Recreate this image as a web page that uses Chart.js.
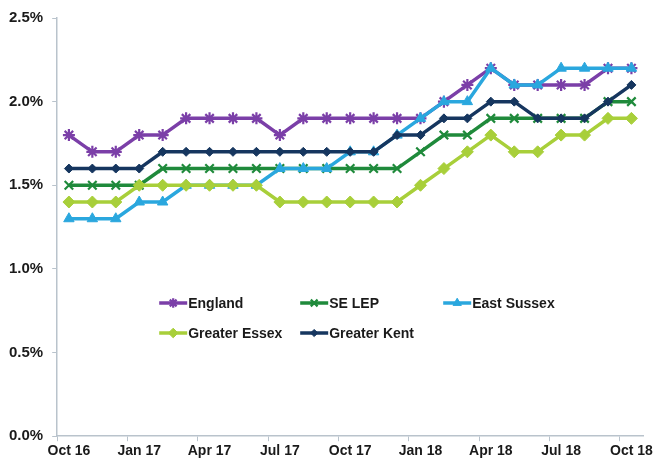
<!DOCTYPE html>
<html>
<head>
<meta charset="utf-8">
<script src="https://cdn.jsdelivr.net/npm/chart.js"></script>
<style>
html, body { margin: 0; padding: 0; background: #fff; }
#wrap { width: 655px; height: 463px; }
</style>
</head>
<body>
<div id="wrap"><canvas id="rateChart" width="655" height="463"></canvas></div>
<script>
// monthly, Oct 16 .. Oct 18
var months = ['Oct 16','Nov 16','Dec 16','Jan 17','Feb 17','Mar 17','Apr 17','May 17','Jun 17',
              'Jul 17','Aug 17','Sep 17','Oct 17','Nov 17','Dec 17','Jan 18','Feb 18','Mar 18',
              'Apr 18','May 18','Jun 18','Jul 18','Aug 18','Sep 18','Oct 18'];
var seriesNames = ['England', 'SE LEP', 'East Sussex', 'Greater Essex', 'Greater Kent'];

var england      = [1.8,1.7,1.7,1.8,1.8,1.9,1.9,1.9,1.9,1.8,1.9,1.9,1.9,1.9,1.9,1.9,2.0,2.1,2.2,2.1,2.1,2.1,2.1,2.2,2.2];
var seLep        = [1.5,1.5,1.5,1.5,1.6,1.6,1.6,1.6,1.6,1.6,1.6,1.6,1.6,1.6,1.6,1.7,1.8,1.8,1.9,1.9,1.9,1.9,1.9,2.0,2.0];
var eastSussex   = [1.3,1.3,1.3,1.4,1.4,1.5,1.5,1.5,1.5,1.6,1.6,1.6,1.7,1.7,1.8,1.9,2.0,2.0,2.2,2.1,2.1,2.2,2.2,2.2,2.2];
var greaterEssex = [1.4,1.4,1.4,1.5,1.5,1.5,1.5,1.5,1.5,1.4,1.4,1.4,1.4,1.4,1.4,1.5,1.6,1.7,1.8,1.7,1.7,1.8,1.8,1.9,1.9];
var greaterKent  = [1.6,1.6,1.6,1.6,1.7,1.7,1.7,1.7,1.7,1.7,1.7,1.7,1.7,1.7,1.8,1.8,1.9,1.9,2.0,2.0,1.9,1.9,1.9,2.0,2.1];

var yTicks = [0, 0.5, 1.0, 1.5, 2.0, 2.5];

var colours = ['#7b3fa8', '#1f8a3b', '#2aa7de', '#a8cf3a', '#16365f'];
var markers = ['star', 'crossRot', 'triangle', 'rectRot', 'rectRot'];
var markerSize = [6, 6, 6, 6, 4.5];
var values = [england, seLep, eastSussex, greaterEssex, greaterKent];

var axisGrey = '#b9c3cc';

var datasets = [];
for (var i = 0; i < values.length; i++) {
   datasets.push({
      label: seriesNames[i],
      data: values[i],
      borderColor: colours[i],
      backgroundColor: colours[i],
      pointBorderColor: colours[i],
      pointBackgroundColor: colours[i],
      pointStyle: markers[i],
      pointRadius: markerSize[i],
      pointBorderWidth: (markers[i] == 'star' || markers[i] == 'crossRot') ? 2.2 : 1,
      borderWidth: 3.5,
      fill: false,
      tension: 0,
      order: values.length - i   // later series on top, like the original
   });
}

// legend drawn inside the plot area, two rows
var insideLegend = {
   id: 'insideLegend',
   afterDatasetsDraw: function(chart) {
      var ctx = chart.ctx, area = chart.chartArea;
      var slots = [[102, 285], [243, 285], [386, 285], [102, 315], [243, 315]];
      ctx.save();
      ctx.font = 'bold 14px "Liberation Sans", Arial, sans-serif';
      ctx.textBaseline = 'middle';
      ctx.textAlign = 'left';
      for (var i = 0; i < datasets.length; i++) {
         var x = area.left + slots[i][0], y = area.top + slots[i][1];
         var ds = datasets[i];
         ctx.strokeStyle = ds.borderColor;
         ctx.lineWidth = 3.5;
         ctx.beginPath();
         ctx.moveTo(x, y);
         ctx.lineTo(x + 28, y);
         ctx.stroke();
         if (Chart.helpers && Chart.helpers.drawPoint) {
            ctx.fillStyle = ds.backgroundColor;
            ctx.lineWidth = ds.pointBorderWidth;
            Chart.helpers.drawPoint(ctx, {
               pointStyle: ds.pointStyle,
               radius: ds.pointRadius * 0.8,
               rotation: 0,
               borderWidth: ds.pointBorderWidth
            }, x + 14, y);
         }
         ctx.fillStyle = '#1a1a1a';
         ctx.fillText(ds.label, x + 29, y + 1);
      }
      ctx.restore();
   }
};

var rateChart = new Chart(document.getElementById('rateChart').getContext('2d'), {
   type: 'line',
   data: { labels: months, datasets: datasets },
   plugins: [insideLegend],
   options: {
      responsive: false,
      animation: false,
      layout: { padding: { left: 0, right: 7, top: 9, bottom: 1 } },
      plugins: { legend: { display: false }, tooltip: { enabled: false } },
      scales: {
         x: {
            offset: true,
            border: { display: true, color: axisGrey, width: 1.5 },
            grid: {
               offset: true,
               drawOnChartArea: false,
               drawTicks: true,
               tickLength: 5,
               color: function(c) { return (c.index % 3 === 0) ? axisGrey : 'rgba(0,0,0,0)'; }
            },
            ticks: {
               autoSkip: false,
               maxRotation: 0,
               padding: 2,
               color: '#1a1a1a',
               font: { family: '"Liberation Sans", Arial, sans-serif', size: 14, weight: 'bold' },
               callback: function(v, idx) { return (idx % 3 === 0) ? months[idx] : ''; }
            }
         },
         y: {
            min: yTicks[0],
            max: yTicks[yTicks.length - 1],
            afterBuildTicks: function(scale) {
               scale.ticks = yTicks.map(function(v) { return { value: v }; });
            },
            border: { display: true, color: axisGrey, width: 1.5 },
            grid: { drawOnChartArea: false, drawTicks: true, tickLength: 5, color: axisGrey },
            ticks: {
               padding: 9,
               color: '#1a1a1a',
               font: { family: '"Liberation Sans", Arial, sans-serif', size: 15, weight: 'bold' },
               callback: function(v) { return Number(v).toFixed(1) + '%'; }
            }
         }
      }
   }
});
</script>
</body>
</html>
